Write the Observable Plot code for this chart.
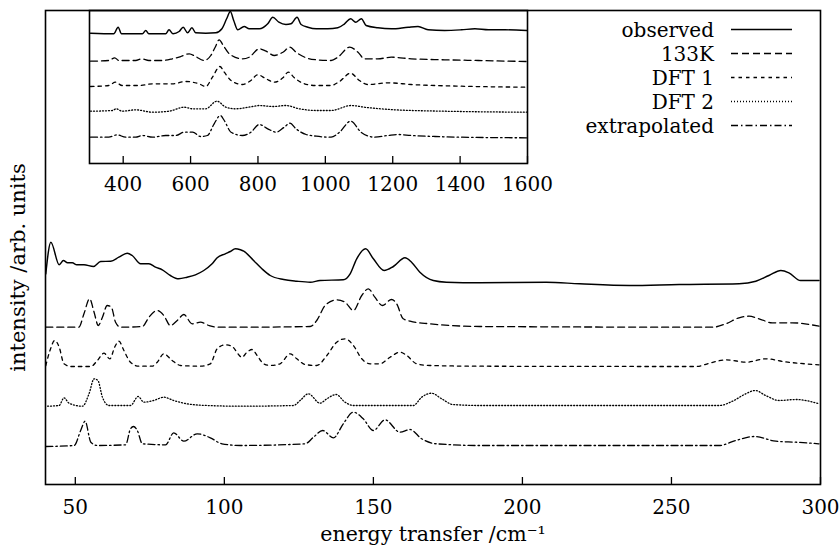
<!DOCTYPE html>
<html><head><meta charset="utf-8">
<script src="https://cdn.jsdelivr.net/npm/d3@7"></script>
<script src="https://cdn.jsdelivr.net/npm/@observablehq/plot@0.6"></script>
<style>
body{margin:0;background:#fff;}
#wrap{position:relative;width:839px;height:556px;}
#wrap svg{overflow:visible;}
#inset{position:absolute;left:87px;top:8px;}
#legend{position:absolute;left:0;top:0;}
</style></head><body><div id="wrap"><div id="main"></div><div id="inset"></div><div id="legend"></div></div>
<script>
// ---- data ----
const seriesNames = ["observed", "133K", "DFT 1", "DFT 2", "extrapolated"];
const mainTicks = [50, 100, 150, 200, 250, 300];
const insetTicks = [400, 600, 800, 1000, 1200, 1400, 1600];

// main panel: [energy transfer (cm^-1), intensity (arb., stacked)]
const mainObserved = [[40.1,210.7],[41.8,242.3],[44.6,219.7],[46.0,224],[47.4,221.7],[49.0,221.7],[50.5,219.7],[52.9,219.7],[56.1,218],[58.5,223],[61.9,223.3],[64.6,227.3],[67.4,231.3],[69.1,229],[71.9,220.7],[74.7,220.7],[76.9,217.3],[79.2,214.7],[81.9,209],[84.7,205.7],[87.5,207.3],[90.3,209.7],[93.1,214],[95.9,220.7],[97.6,226.7],[100.3,230.7],[102.0,233],[103.7,235.7],[105.4,234.7],[106.5,233.3],[109.8,224],[112.6,215.7],[115.4,209],[119.9,205],[124.3,203.3],[128.8,202.3],[132.1,204],[139.9,204.7],[142.2,210.7],[144.4,225.7],[147.4,235.7],[150.0,225.7],[153.6,214],[156.7,218],[160.6,226.7],[162.8,222.3],[165.6,212.3],[170.1,204],[174.5,202.3],[185.7,201.7],[208.0,202.3],[219.2,200.7],[235.9,199],[252.6,200],[272.7,200.7],[278.3,203.3],[282.7,209],[286.7,214],[289.4,211.7],[293.3,204],[299.5,204]];
const main133K = [[40.1,157.3],[51.2,157.3],[52.9,170.7],[54.8,185.7],[56.3,172.3],[57.7,159],[59.1,167.3],[60.7,179],[62.1,177.3],[63.5,162.3],[65.2,157.3],[72.5,158],[74.7,167.3],[77.5,174],[79.7,169],[81.9,159],[84.2,164],[86.4,170],[89.2,160.7],[92.0,162.3],[94.8,159],[97.6,157.3],[105.4,157.3],[128.8,158],[131.0,164],[133.8,179],[137.7,184.7],[140.5,182.3],[143.3,174],[146.1,189],[148.3,195.7],[150.5,187.3],[153.0,179],[156.1,185],[157.8,180.7],[160.0,165.7],[162.3,163.3],[169.0,160.7],[185.7,158],[263.8,157.3],[268.2,160.7],[272.7,166.7],[276.0,168.3],[279.4,165.7],[283.8,161.7],[290.5,161.7],[299.5,158.3]];
const mainDFT1 = [[40.1,119],[41.5,134],[43.1,144],[44.6,137.3],[46.2,120.7],[48.5,118],[55.2,118],[57.4,124],[59.6,131.3],[61.6,125.7],[63.2,137.3],[64.6,143.3],[66.3,134],[68.5,122.3],[71.3,118.3],[75.8,118.3],[77.5,122.3],[79.7,130.7],[82.5,124],[85.3,119],[92.0,118.3],[95.3,120.7],[97.6,135.7],[100.3,139.7],[102.6,138],[105.9,127.3],[107.6,132.3],[109.3,135],[111.0,129],[113.2,120.7],[115.4,119],[118.7,120.7],[122.1,130.7],[124.3,125.7],[127.1,120],[131.0,119],[134.4,129],[137.7,142.3],[140.5,145.7],[143.3,139],[146.1,125.7],[148.9,120.7],[152.2,120.7],[155.6,127.3],[158.9,132.3],[161.2,129],[164.5,120.7],[169.0,119],[185.7,118.3],[258.4,118],[262.8,121.3],[268.4,124.7],[275.1,122.3],[281.8,125.7],[287.4,123],[299.5,119.7]];
const mainDFT2 = [[40.7,78.3],[44.6,79],[46.2,86.7],[47.9,81.3],[52.4,78.3],[54.6,90.7],[56.3,105.7],[57.6,104],[59.1,87.3],[61.3,79],[68.5,79],[71.1,88],[73.0,82.3],[76.3,84],[79.7,87.3],[83.0,84],[87.5,80.7],[94.2,79],[105.4,78.3],[123.2,79],[125.4,84],[128.2,90.7],[132.1,81.3],[134.4,85.7],[137.5,90],[140.5,82.3],[143.3,79],[163.4,79],[166.2,87.3],[169.5,91.3],[172.9,85.7],[176.7,80],[185.7,79],[266.0,79],[270.5,83.3],[274.9,90.7],[278.1,94],[281.6,89],[286.1,84],[291.7,85],[299.5,80.7]];
const mainExtrap = [[40.1,38],[49.6,39],[51.8,54],[53.3,63.3],[55.2,42.3],[57.4,39],[66.9,39.7],[68.5,55.7],[69.5,58],[70.8,54],[72.5,40.7],[80.3,39.7],[83.0,51.7],[86.4,43.3],[90.9,50.7],[95.3,46.7],[99.2,40.7],[105.4,39],[127.1,40.7],[129.9,47.3],[133.0,54],[136.6,46.7],[139.9,60.7],[143.3,72.3],[146.6,65.7],[150.0,54],[153.9,64.7],[158.9,52.3],[162.3,55],[166.2,45.7],[171.2,40.7],[185.7,39],[266.0,39],[271.6,44],[277.8,48],[285.0,43.3],[291.7,42.3],[299.5,40.7]];

// inset panel
const insetObserved = [[303,130.3],[372,129.7],[385,136.3],[395,129.7],[457,129.7],[467,133],[476,129.7],[526,129.7],[536,133.7],[548,129.7],[566,132],[578,136.3],[591,130.7],[604,135.7],[615,130.7],[645,130.3],[675,130.7],[693,134.7],[707,144.7],[718,152],[728,143],[740,133.7],[759,137],[774,134.7],[804,134.7],[829,139.7],[844,146.3],[862,141.3],[883,139],[898,139.7],[916,146.3],[928,139],[948,136.3],[973,134.7],[1007,134.7],[1037,135.7],[1057,139.7],[1075,144.7],[1090,141.3],[1107,144.7],[1121,138],[1156,135.7],[1196,134.7],[1246,136.3],[1275,137],[1305,133.7],[1354,133],[1404,133.7],[1444,134.7],[1484,133.7],[1533,133.7],[1598,133]];
const inset133K = [[303,102.3],[357,103],[375,105.7],[387,103],[437,103],[455,104.7],[476,103],[516,103],[546,104.7],[571,107],[596,109.7],[615,107],[640,103],[660,108],[673,116.3],[685,123.7],[697,118],[715,109.7],[754,104.7],[774,106.3],[804,114.7],[824,112.3],[849,108],[874,111.3],[895,116.3],[913,111.3],[943,105.7],[973,103.7],[1017,103],[1037,106.3],[1072,116.3],[1097,111.3],[1116,104.7],[1156,104.7],[1196,106.3],[1255,104.7],[1354,103.7],[1454,103],[1598,102]];
const insetDFT1 = [[303,77],[357,78],[377,81.3],[397,78],[447,78],[487,79.7],[546,79.7],[586,82],[625,79.7],[645,77],[665,86.3],[687,97],[700,91.3],[720,83],[754,79],[779,83],[799,88.7],[824,84.7],[849,81.3],[874,85.7],[890,91.3],[908,85.7],[938,79.7],[973,78],[1017,78],[1042,82],[1075,90.3],[1101,83],[1126,79],[1186,80.7],[1255,79],[1404,77.3],[1598,76.3]];
const insetDFT2 = [[303,52.3],[368,53],[379,54.7],[397,52.3],[437,53.7],[487,51.3],[536,52.3],[581,56.3],[606,54.7],[645,54.7],[678,62.3],[705,56.3],[734,54.7],[784,57],[804,58],[844,57],[883,58],[923,54.7],[973,53],[1017,53],[1077,58],[1116,56.3],[1206,53.7],[1354,52.3],[1598,51.3]];
const insetExtrap = [[303,26.3],[357,26.3],[382,28.7],[407,26.3],[437,26.3],[457,28],[487,26.3],[526,28],[556,28],[581,31.3],[606,31.3],[630,27],[650,28],[670,39.7],[688,48],[700,43],[720,31.3],[754,28],[779,31.3],[804,39],[829,34.7],[854,31.3],[878,36.3],[895,40.3],[913,34.7],[943,29],[973,27.3],[1017,26.3],[1042,31.3],[1075,42.3],[1106,31.3],[1146,26.3],[1186,28],[1216,29],[1255,28],[1325,27],[1404,26.3],[1598,25.7]];

// ---- styles ----
const dashes = [null, "7,4", "3.5,4", "1,2", "7,3,1.5,3"];
const FONT = "'DejaVu Serif', serif";

const mainSeries = [mainObserved, main133K, mainDFT1, mainDFT2, mainExtrap];
const insetSeries = [insetObserved, inset133K, insetDFT1, insetDFT2, insetExtrap];

function lines(all) {
  return all.map((data, i) => Plot.line(data, {
    x: d => d[0], y: d => d[1], curve: "monotone-x",
    stroke: "#000", strokeWidth: i === 0 ? 1.45 : 1.3,
    strokeDasharray: dashes[i] || undefined
  }));
}

const main = Plot.plot({
  width: 839, height: 556,
  marginLeft: 45, marginRight: 19, marginTop: 10, marginBottom: 72,
  x: {domain: [40, 300], axis: null},
  y: {domain: [0, 474], axis: null},
  style: {fontFamily: FONT, fontSize: "20px", color: "#000", background: "transparent", overflow: "visible"},
  marks: [
    ...lines(mainSeries),
    Plot.ruleX(mainTicks, {x: d => d, y1: 0, y2: 7, stroke: "#000", strokeWidth: 1.3}),
    Plot.axisX(mainTicks, {tickSize: 0, tickPadding: 15, label: null, fontSize: 20, tickFormat: d => String(d)}),
    Plot.frame({stroke: "#000", strokeWidth: 1.6}),
    Plot.text(["energy transfer /cm⁻¹"], {frameAnchor: "bottom", dy: 56, fontSize: 20.5, letterSpacing: "0.5px"}),
    Plot.text(["intensity /arb. units"], {frameAnchor: "left", textAnchor: "middle", rotate: -90, dx: -27, dy: 20, fontSize: 21, letterSpacing: "1.5px"})
  ]
});
document.getElementById("main").appendChild(main);

const inset = Plot.plot({
  width: 442, height: 195,
  marginLeft: 2, marginRight: 2, marginTop: 2, marginBottom: 40,
  x: {domain: [300, 1600], axis: null},
  y: {domain: [0, 153], axis: null},
  style: {fontFamily: FONT, fontSize: "20px", color: "#000", background: "transparent", overflow: "visible"},
  marks: [
    ...lines(insetSeries),
    Plot.ruleX(insetTicks, {x: d => d, y1: 0, y2: 7, stroke: "#000", strokeWidth: 1.3}),
    Plot.axisX(insetTicks, {tickSize: 0, tickPadding: 13, label: null, fontSize: 20, tickFormat: d => String(d)}),
    Plot.frame({stroke: "#000", strokeWidth: 1.6})
  ]
});
document.getElementById("inset").appendChild(inset);

// legend
const lg = d3.select("#legend").append("svg").attr("width", 839).attr("height", 556)
  .style("overflow", "visible");
seriesNames.forEach((name, i) => {
  const y = 29.5 + i * 24;
  lg.append("text").attr("x", 714).attr("y", y + 7).attr("text-anchor", "end")
    .attr("font-family", FONT).attr("font-size", 20).attr("fill", "#000").text(name);
  const l = lg.append("line").attr("x1", 731).attr("x2", 792).attr("y1", y).attr("y2", y)
    .attr("stroke", "#000").attr("stroke-width", i === 0 ? 1.45 : 1.3);
  if (dashes[i]) l.attr("stroke-dasharray", dashes[i]);
});
</script></body></html>
